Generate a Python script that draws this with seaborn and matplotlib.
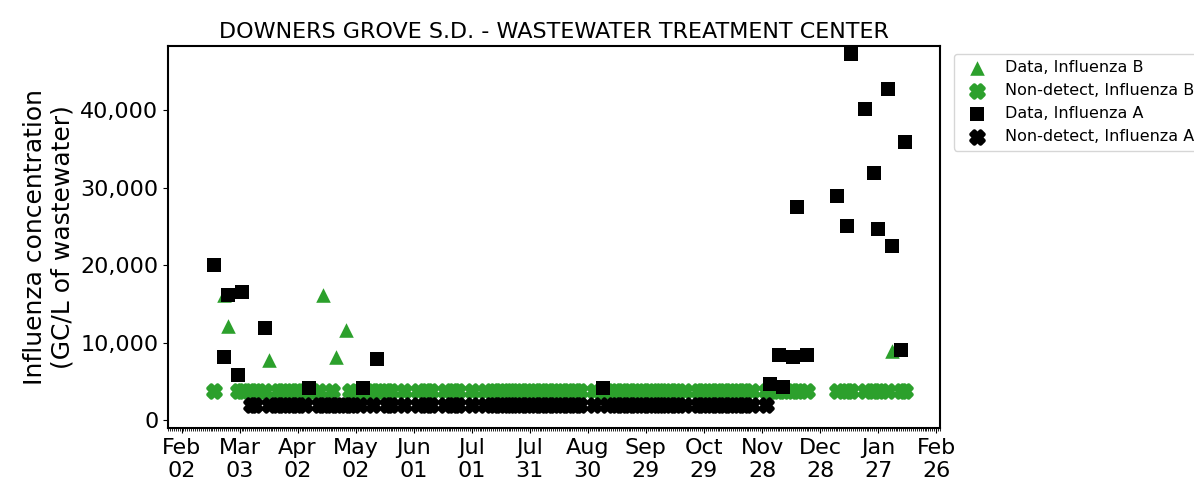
import pandas as pd
import matplotlib
matplotlib.use("Agg")
import matplotlib.pyplot as plt
import matplotlib.dates as mdates
import matplotlib.ticker as mticker
import seaborn as sns

# sampling days (Sat / Mon), a few skipped weeks and the holiday break
sample_dates = [
    "2024-02-19", "2024-02-24", "2024-02-26",
    "2024-03-02", "2024-03-04", "2024-03-09", "2024-03-11", "2024-03-16", "2024-03-18",
    "2024-03-23", "2024-03-25", "2024-03-30",
    "2024-04-01", "2024-04-06", "2024-04-08", "2024-04-13", "2024-04-15", "2024-04-20",
    "2024-04-22", "2024-04-27", "2024-04-29",
    "2024-05-04", "2024-05-06", "2024-05-11", "2024-05-13", "2024-05-18", "2024-05-20",
    "2024-05-27",
    "2024-06-03", "2024-06-08", "2024-06-10", "2024-06-17", "2024-06-22", "2024-06-24",
    "2024-07-01", "2024-07-08", "2024-07-13", "2024-07-15", "2024-07-20", "2024-07-22",
    "2024-07-27", "2024-07-29",
    "2024-08-03", "2024-08-05", "2024-08-10", "2024-08-12", "2024-08-17", "2024-08-19",
    "2024-08-24", "2024-08-26",
    "2024-09-02", "2024-09-07", "2024-09-09", "2024-09-14", "2024-09-16", "2024-09-21",
    "2024-09-23", "2024-09-28", "2024-09-30",
    "2024-10-05", "2024-10-07", "2024-10-12", "2024-10-14", "2024-10-19", "2024-10-26",
    "2024-10-28",
    "2024-11-02", "2024-11-04", "2024-11-09", "2024-11-11", "2024-11-16", "2024-11-18",
    "2024-11-23", "2024-11-30",
    "2024-12-02", "2024-12-07", "2024-12-09", "2024-12-14", "2024-12-16", "2024-12-21",
    "2025-01-06", "2025-01-11", "2025-01-13", "2025-01-20", "2025-01-25", "2025-01-27",
    "2025-02-01", "2025-02-03", "2025-02-08", "2025-02-10",
]

flu_a_dates = [
    "2024-02-19", "2024-02-24", "2024-02-26", "2024-03-02", "2024-03-04", "2024-03-16",
    "2024-04-08", "2024-05-06", "2024-05-13", "2024-09-07",
    "2024-12-02", "2024-12-07", "2024-12-09", "2024-12-14", "2024-12-16", "2024-12-21",
    "2025-01-06", "2025-01-11", "2025-01-13", "2025-01-20", "2025-01-25", "2025-01-27",
    "2025-02-01", "2025-02-03", "2025-02-08", "2025-02-10",
]
flu_a_values = [
    20000, 8170, 16130, 5800, 16560, 11960,
    4100, 4200, 7960, 4200,
    4730, 8390, 4220, 8170, 27480, 8390,
    28900, 25030, 47300, 40170, 31910, 24730,
    42710, 22450, 9030, 35940,
]

flu_b_dates = [
    "2024-02-24", "2024-02-26", "2024-03-18", "2024-04-15", "2024-04-22", "2024-04-27",
    "2025-02-03",
]
flu_b_values = [16130, 12100, 7740, 16130, 8090, 11700, 8900]

# value at which non-detects are drawn
nd_level_a = 1900
nd_level_b = 3800

xtick_dates = [
    "2024-02-02", "2024-03-03", "2024-04-02", "2024-05-02", "2024-06-01", "2024-07-01",
    "2024-07-31", "2024-08-30", "2024-09-29", "2024-10-29", "2024-11-28", "2024-12-28",
    "2025-01-27", "2025-02-26",
]

GREEN = "#2ca02c"


def main():
    samples = pd.to_datetime(sample_dates)
    a_det = pd.DataFrame({"date": pd.to_datetime(flu_a_dates), "value": flu_a_values})
    b_det = pd.DataFrame({"date": pd.to_datetime(flu_b_dates), "value": flu_b_values})
    a_nd = pd.DataFrame({"date": samples[~samples.isin(a_det["date"])]})
    a_nd["value"] = nd_level_a
    b_nd = pd.DataFrame({"date": samples[~samples.isin(b_det["date"])]})
    b_nd["value"] = nd_level_b

    fig, ax = plt.subplots(figsize=(11.94, 4.83), dpi=100)
    fig.subplots_adjust(left=0.1407, right=0.7873, bottom=0.114, top=0.905)

    kw = dict(x="date", y="value", ax=ax)
    sns.scatterplot(data=b_det, marker="^", s=110, color=GREEN, linewidth=0,
                    label="Data, Influenza B", **kw)
    sns.scatterplot(data=b_nd, marker="X", s=80, color=GREEN, edgecolor=GREEN, linewidth=3,
                    label="Non-detect, Influenza B", **kw)
    sns.scatterplot(data=a_det, marker="s", s=100, color="black", linewidth=0,
                    label="Data, Influenza A", **kw)
    sns.scatterplot(data=a_nd, marker="X", s=80, color="black", edgecolor="black", linewidth=3,
                    label="Non-detect, Influenza A", **kw)

    ax.set_xlim(pd.Timestamp("2024-01-26"), pd.Timestamp("2025-02-28"))
    ax.set_ylim(-1000, 48300)
    ax.xaxis.set_major_locator(mticker.FixedLocator(mdates.date2num(pd.to_datetime(xtick_dates))))
    ax.xaxis.set_major_formatter(mdates.DateFormatter("%b\n%d"))
    ax.xaxis.set_minor_locator(mdates.DayLocator())
    ax.yaxis.set_major_locator(mticker.MultipleLocator(10000))
    ax.yaxis.set_major_formatter(mticker.FuncFormatter(lambda v, p: f"{v:,.0f}"))
    ax.tick_params(axis="both", labelsize=16)

    ax.set_title("DOWNERS GROVE S.D. - WASTEWATER TREATMENT CENTER", fontsize=16)
    ax.set_xlabel("")
    ax.set_ylabel("Influenza concentration\n(GC/L of wastewater)", fontsize=18)
    for s in ax.spines.values():
        s.set_linewidth(1.5)

    ax.legend(loc="upper left", bbox_to_anchor=(1.008, 1.0), fontsize=11.5)

    fig.savefig("out.png", dpi=100)


if __name__ == "__main__":
    main()
